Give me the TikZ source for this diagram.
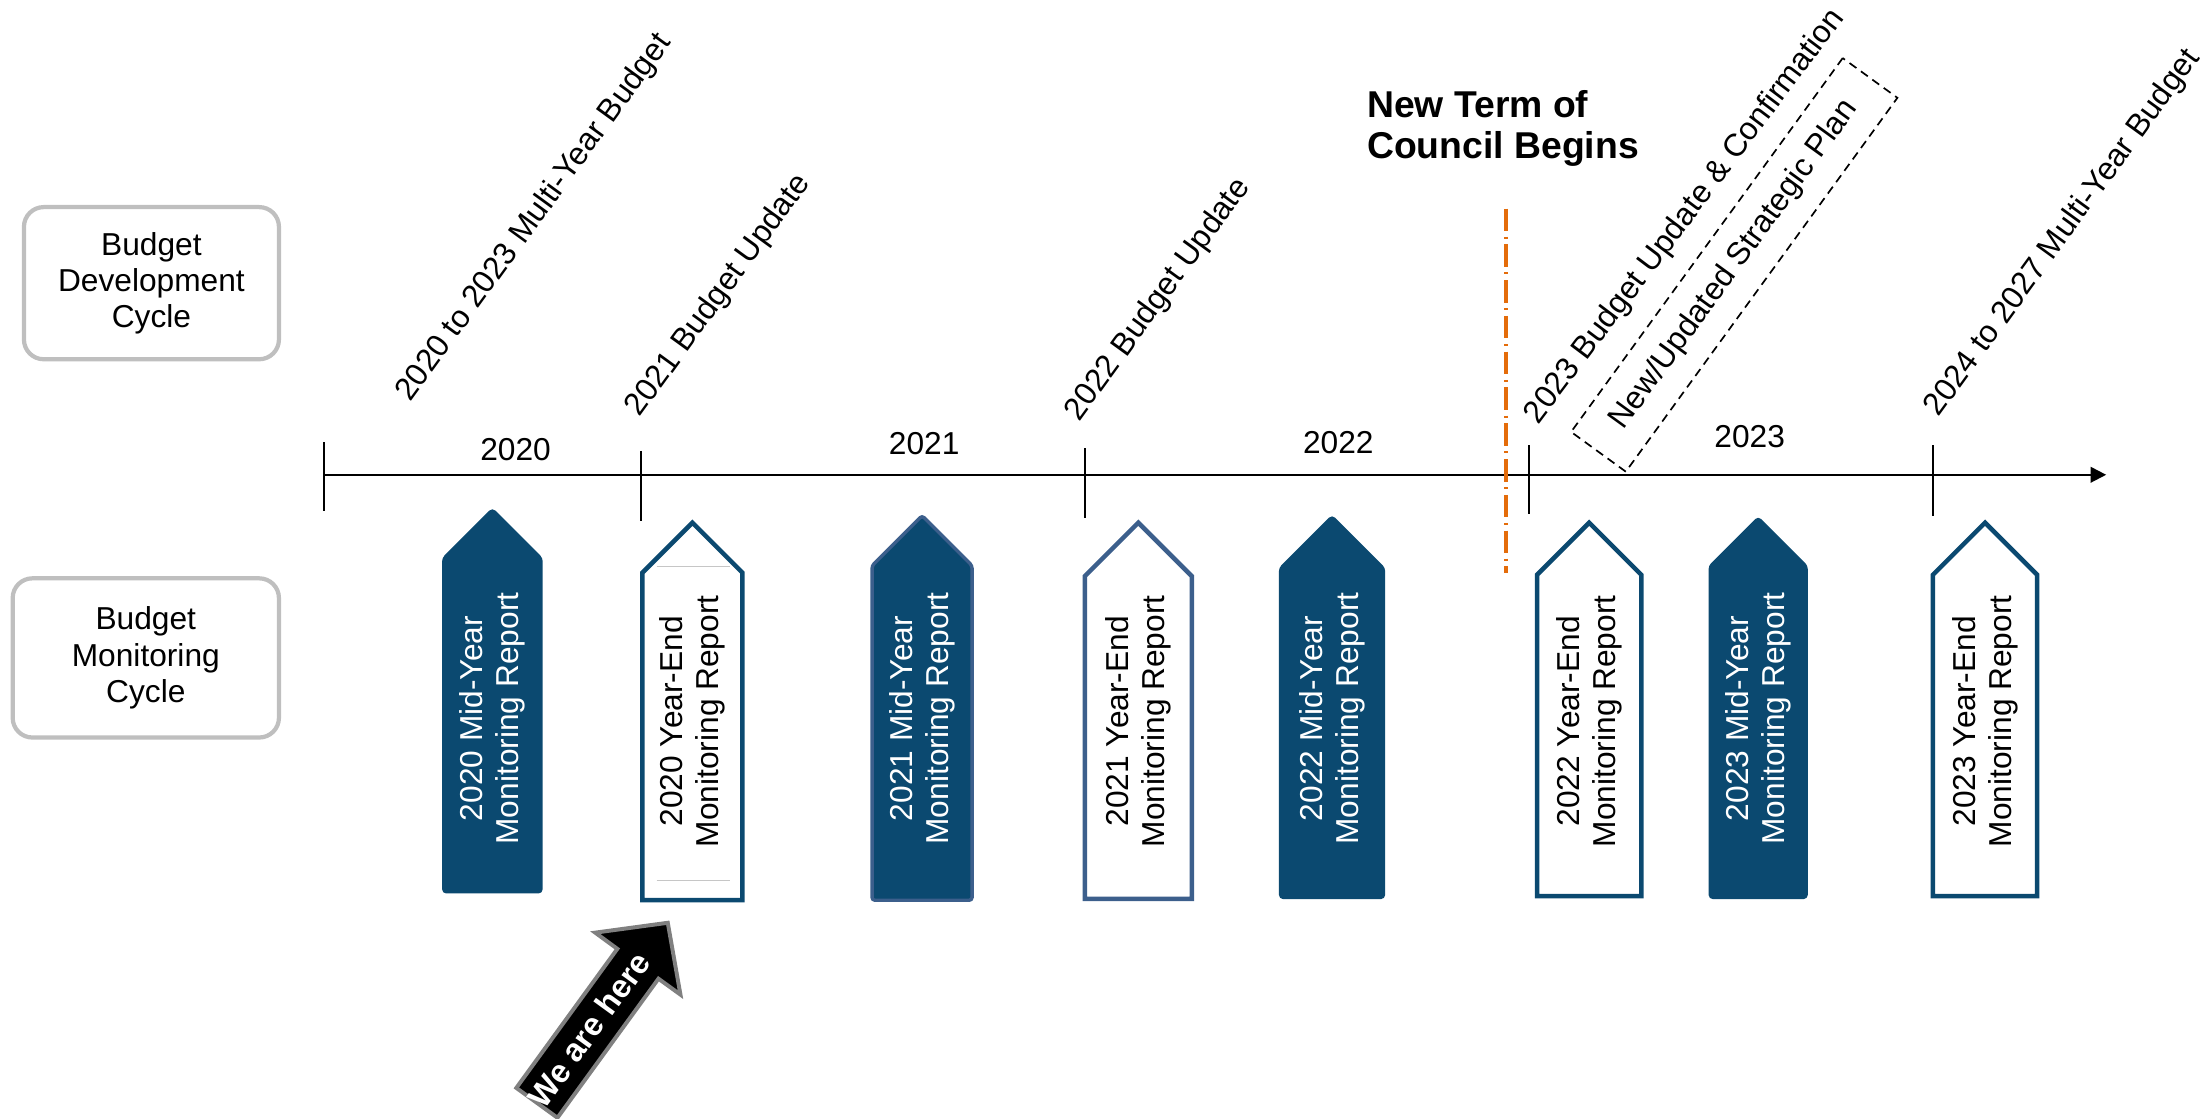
\documentclass[tikz,border=0pt]{standalone}
\usepackage{fontspec}
\setmainfont{Liberation Sans}
\usepackage{xcolor}
\usepackage{tikz}
\usetikzlibrary{arrows.meta,shapes}

\definecolor{repblue}{RGB}{11,73,112}
\definecolor{frameblue}{RGB}{60,95,140}
\definecolor{boxgray}{RGB}{191,191,191}
\definecolor{termorange}{RGB}{228,108,10}

\begin{document}
\begin{tikzpicture}[x=0.5pt,y=-0.5pt,
  txt/.style={font=\fontsize{11.25}{12.9}\selectfont},
  cyclebox/.style={txt,draw=boxgray,line width=1.5pt,rounded corners=7pt,align=center},
  milestone/.style={txt,rotate=54,anchor=base west,inner sep=0pt},
  yearlbl/.style={txt,inner sep=0pt},
  axisline/.style={line width=0.75pt},
  midrep/.style={fill=repblue,line width=1.2pt,rounded corners=1pt},
  endrep/.style={fill=white,line width=1.6pt},
  reptext/.style={txt,rotate=90,align=center,inner sep=0pt},
  termtext/.style={font=\fontsize{13.25}{14.5}\selectfont\bfseries,align=left,inner sep=0pt},
  termline/.style={termorange,line width=1.1pt,dash pattern=on 8pt off 2pt on 0.7pt off 2pt},
  planbox/.style={txt,draw,dash pattern=on 3pt off 2pt,line width=0.6pt,rotate=54,
    minimum width=164pt,minimum height=24pt,inner sep=0pt},
  herearrow/.style={fill=black,draw=gray,line width=1.4pt,line join=miter},
  heretext/.style={font=\fontsize{11.5}{13}\selectfont\bfseries,text=white,rotate=54,inner sep=0pt}]
\useasboundingbox (0,0) rectangle (1568,794);

% the two cycles
\node[cyclebox,minimum width=90.5pt,minimum height=54pt] (dev) at (107.5,201) {Budget\\Development\\Cycle};
\node[cyclebox,minimum width=94.5pt,minimum height=56.5pt] (mon) at (103.5,467) {Budget\\Monitoring\\Cycle};

% time axis
\coordinate (t0) at (230,337);
\coordinate (tend) at (1495,337);
\draw[axisline,-{Triangle[length=5.5pt,width=5.5pt]}] (t0) -- (tend);
\foreach \x/\a/\b in {230/314/363,455/320/370,770/318/368,1085/316/365,1372/316/366}
  \draw[axisline] (\x,\a) -- (\x,\b);
\node[yearlbl] (y2020) at (366,319) {2020};
\node[yearlbl] (y2021) at (656,315) {2021};
\node[yearlbl] (y2022) at (950,314) {2022};
\node[yearlbl] (y2023) at (1242,310) {2023};

% budget milestones
\node[milestone] (mb1) at (291,286) {2020 to 2023 Multi-Year Budget};
\node[milestone] (bu1) at (454,297) {2021 Budget Update};
\node[milestone] (bu2) at (766,300) {2022 Budget Update};
\node[milestone,rotate=-1] (bu3) at (1092,302) {2023 Budget Update \& Confirmation};
\node[milestone] (mb2) at (1376,297) {2024 to 2027 Multi-Year Budget};
\node[planbox] (plan) at (1231,188) {New/Updated Strategic Plan};

% new council
\node[termtext,anchor=west] (term) at (970,91) {New Term of\\Council Begins};
\coordinate (ct) at (1069,148);
\coordinate (cb) at (1069,407);
\draw[termline] (ct) -- (cb);

% mid-year reports
\foreach \x/\w/\tip/\bot/\ec/\yr [count=\i] in
  {349.5/34.5/362/633/repblue/2020,654.5/35.5/366/639/frameblue/2021,
   945.5/36.5/367/637/repblue/2022,1248/34/368/637/repblue/2023}
{
  \draw[midrep,draw=\ec] (\x-\w,\bot) -- (\x-\w,\tip+\w) -- (\x,\tip) -- (\x+\w,\tip+\w) -- (\x+\w,\bot) -- cycle;
  \node[reptext,text=white] (mid\i) at (\x,510) {\yr{} Mid-Year\\Monitoring Report};
}
% year-end reports
\foreach \x/\w/\tip/\bot/\ec/\yr [count=\i] in
  {491.5/35.5/371/639/repblue/2020,808/38/371/638/frameblue/2021,
   1128/37/371/636/repblue/2022,1409/37/371/636/repblue/2023}
{
  \draw[endrep,draw=\ec] (\x-\w,\bot) -- (\x-\w,\tip+\w) -- (\x,\tip) -- (\x+\w,\tip+\w) -- (\x+\w,\bot) -- cycle;
  \node[reptext] (end\i) at (\x,512) {\yr{} Year-End\\Monitoring Report};
}
\draw[gray!45,line width=0.5pt] (466,402) -- (518,402) (466,625) -- (518,625);

% we are here
\draw[herearrow] (474,655) -- (483,706) -- (467.4,694.7) -- (395.7,793.4) -- (366.5,772.2) -- (438.2,673.5) -- (422.5,662) -- cycle;
\node[heretext] (here) at (418,731) {We are here};
\end{tikzpicture}
\end{document}
